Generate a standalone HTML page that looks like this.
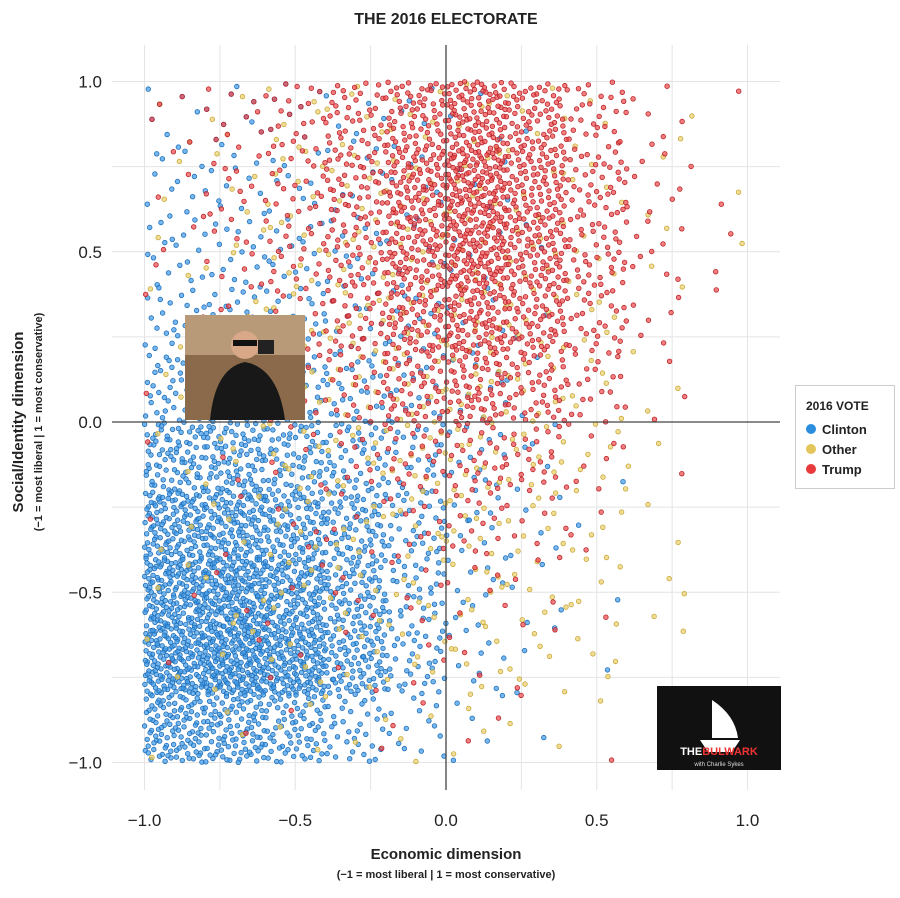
<!DOCTYPE html>
<html><head><meta charset="utf-8">
<style>
body{margin:0;background:#fff;width:900px;height:893px;overflow:hidden;font-family:"Liberation Sans",sans-serif}
svg text{font-family:"Liberation Sans",sans-serif}
</style></head>
<body>
<svg id="chart" width="900" height="893" viewBox="0 0 900 893">
<text x="446" y="24" text-anchor="middle" font-size="16" font-weight="bold" fill="#222">THE 2016 ELECTORATE</text>
<g id="grid"></g>
<g id="pts"></g>
<g id="axes"></g>
<text x="446" y="859" text-anchor="middle" font-size="15" font-weight="bold" fill="#222">Economic dimension</text>
<text x="446" y="878" text-anchor="middle" font-size="11" font-weight="bold" fill="#222">(−1 = most liberal | 1 = most conservative)</text>
<text transform="translate(23,422) rotate(-90)" text-anchor="middle" font-size="15" font-weight="bold" fill="#222">Social/Identity dimension</text>
<text transform="translate(42,422) rotate(-90)" text-anchor="middle" font-size="11" font-weight="bold" fill="#222">(−1 = most liberal | 1 = most conservative)</text>
<g>
<rect x="185" y="315" width="120" height="105" fill="#8a6a4a"/>
<rect x="185" y="315" width="120" height="40" fill="#b89a78"/>
<circle cx="245" cy="345" r="14" fill="#d8a888"/>
<rect x="233" y="340" width="24" height="6" fill="#111"/>
<path d="M210 420 Q215 368 245 362 Q278 368 285 420 Z" fill="#181818"/>
<rect x="258" y="340" width="16" height="14" fill="#222"/>
</g>
<g>
<rect x="795.5" y="385.5" width="99" height="103" fill="#fff" stroke="#ccc"/>
<text x="806" y="410" font-size="12" font-weight="bold" fill="#222">2016 VOTE</text>
<circle cx="811" cy="429" r="5" fill="#2b8de0"/>
<text x="822" y="434" font-size="13" font-weight="bold" fill="#222">Clinton</text>
<circle cx="811" cy="449" r="5" fill="#e3c55a"/>
<text x="822" y="454" font-size="13" font-weight="bold" fill="#222">Other</text>
<circle cx="811" cy="469" r="5" fill="#e8393b"/>
<text x="822" y="474" font-size="13" font-weight="bold" fill="#222">Trump</text>
</g>
<g>
<rect x="657" y="686" width="124" height="84" fill="#111"/>
<path d="M700 740 L740 740 L732 752 L708 752 Z" fill="#fff"/>
<path d="M712 700 L712 738 L738 738 Q735 715 712 700Z" fill="#fff"/>
<text x="719" y="755" text-anchor="middle" font-size="11" font-weight="bold" fill="#fff">THE<tspan fill="#e33">BULWARK</tspan></text>
<text x="719" y="766" text-anchor="middle" font-size="6" fill="#ddd">with Charlie Sykes</text>
</g>
</svg>
<script>
// density grid: rows from y=[0.8,1] down to y=[-1,-0.8]; cols from x=[-1,-0.8] to [0.8,1]
const xEdges=[-1,-0.8,-0.6,-0.4,-0.2,0,0.2,0.4,0.6,0.8,1];
const yEdges=[1,0.8,0.6,0.4,0.2,0,-0.2,-0.4,-0.6,-0.8,-1];
const clintonCounts=[
[8,10,7,7,5,3,1,0,0,0],
[12,12,10,8,7,4,1,0,0,0],
[16,16,15,12,8,5,2,0,0,0],
[25,25,20,16,12,7,2,0,0,0],
[42,42,34,26,17,9,3,0,0,0],
[80,80,60,44,26,13,5,1,0,0],
[125,125,95,70,35,13,5,1,0,0],
[160,170,130,80,35,11,4,1,0,0],
[175,195,160,88,35,9,3,1,0,0],
[105,95,70,35,13,5,1,0,0,0]];
const otherCounts=[
[2,3,6,6,6,6,5,3,1,1],
[2,4,8,8,8,8,6,4,2,1],
[2,4,8,10,10,10,8,5,2,1],
[2,4,8,10,12,12,9,6,2,0],
[2,5,8,10,12,12,10,6,2,0],
[2,5,8,10,12,13,11,7,2,0],
[2,4,6,8,10,11,9,6,2,0],
[2,4,5,6,8,10,8,6,3,0],
[2,3,4,5,6,8,7,4,1,0],
[1,2,3,3,3,3,2,1,0,0]];
const trumpCounts=[
[4,11,22,38,68,98,68,30,6,1],
[4,11,22,45,90,128,82,38,8,2],
[3,9,19,41,82,120,82,38,9,2],
[2,6,15,34,68,90,68,30,6,1],
[2,4,9,22,45,60,45,19,3,0],
[1,2,6,11,22,30,23,8,1,0],
[1,2,4,6,11,15,9,3,0,0],
[1,2,3,4,6,6,4,1,0,0],
[1,1,2,3,3,3,2,0,0,0],
[0,1,1,1,2,2,1,1,0,0]];
const xTicks=[-1,-0.5,0,0.5,1];
const yTicks=[1,0.5,0,-0.5,-1];
const xTickLabels=["−1.0","−0.5","0.0","0.5","1.0"];
const yTickLabels=["1.0","0.5","0.0","−0.5","−1.0"];

const NS="http://www.w3.org/2000/svg";
const X=v=>446+v*301.5, Y=v=>422-v*340.5;
function mk(t,a,p){const e=document.createElementNS(NS,t);for(const k in a)e.setAttribute(k,a[k]);p.appendChild(e);return e;}
const grid=document.getElementById('grid'),axes=document.getElementById('axes'),pts=document.getElementById('pts');
for(let v=-1;v<=1.001;v+=0.25){
 const gx=mk('line',{x1:X(v),x2:X(v),y1:45,y2:790,stroke:'#e4e4e4'},grid);
 
 
 const gy=mk('line',{x1:112,x2:780,y1:Y(v),y2:Y(v),stroke:'#e4e4e4'},grid);
 
 
}
function halton(i,b){let f=1,r=0;while(i>0){f/=b;r+=f*(i%b);i=Math.floor(i/b);}return r;}
function series(counts,fill,stroke,name){
 let idx=1;
 counts.forEach((row,r)=>row.forEach((n,c)=>{
  for(let k=0;k<n;k++){
   idx++;
   const fx=halton(idx,2),fy=halton(idx,3);
   const vx=xEdges[c]+(xEdges[c+1]-xEdges[c])*fx;
   const vy=yEdges[r+1]+(yEdges[r]-yEdges[r+1])*fy;
   const e=mk('circle',{cx:X(vx).toFixed(1),cy:Y(vy).toFixed(1),r:2.3,fill:fill,'fill-opacity':0.7,stroke:stroke,'stroke-width':0.8},pts);
   
   
  }
 }));
}
series(clintonCounts,'#3d99e8','#1f6fb8','clinton-point');
series(otherCounts,'#ead06a','#c9a83a','other-point');
series(trumpCounts,'#f0464a','#b82528','trump-point');
const ax=mk('line',{x1:X(0),x2:X(0),y1:45,y2:790,stroke:'#444','stroke-width':1.3},axes);


const ay=mk('line',{x1:112,x2:780,y1:Y(0),y2:Y(0),stroke:'#444','stroke-width':1.3},axes);


xTicks.forEach((v,i)=>{const t=mk('text',{x:X(v),y:826,'text-anchor':'middle','font-size':17,fill:'#222'},axes);t.textContent=xTickLabels[i];
 
 });
yTicks.forEach((v,i)=>{const t=mk('text',{x:102,y:Y(v)+6,'text-anchor':'end','font-size':17,fill:'#222'},axes);t.textContent=yTickLabels[i];
 
 });
</script>
</body></html>
